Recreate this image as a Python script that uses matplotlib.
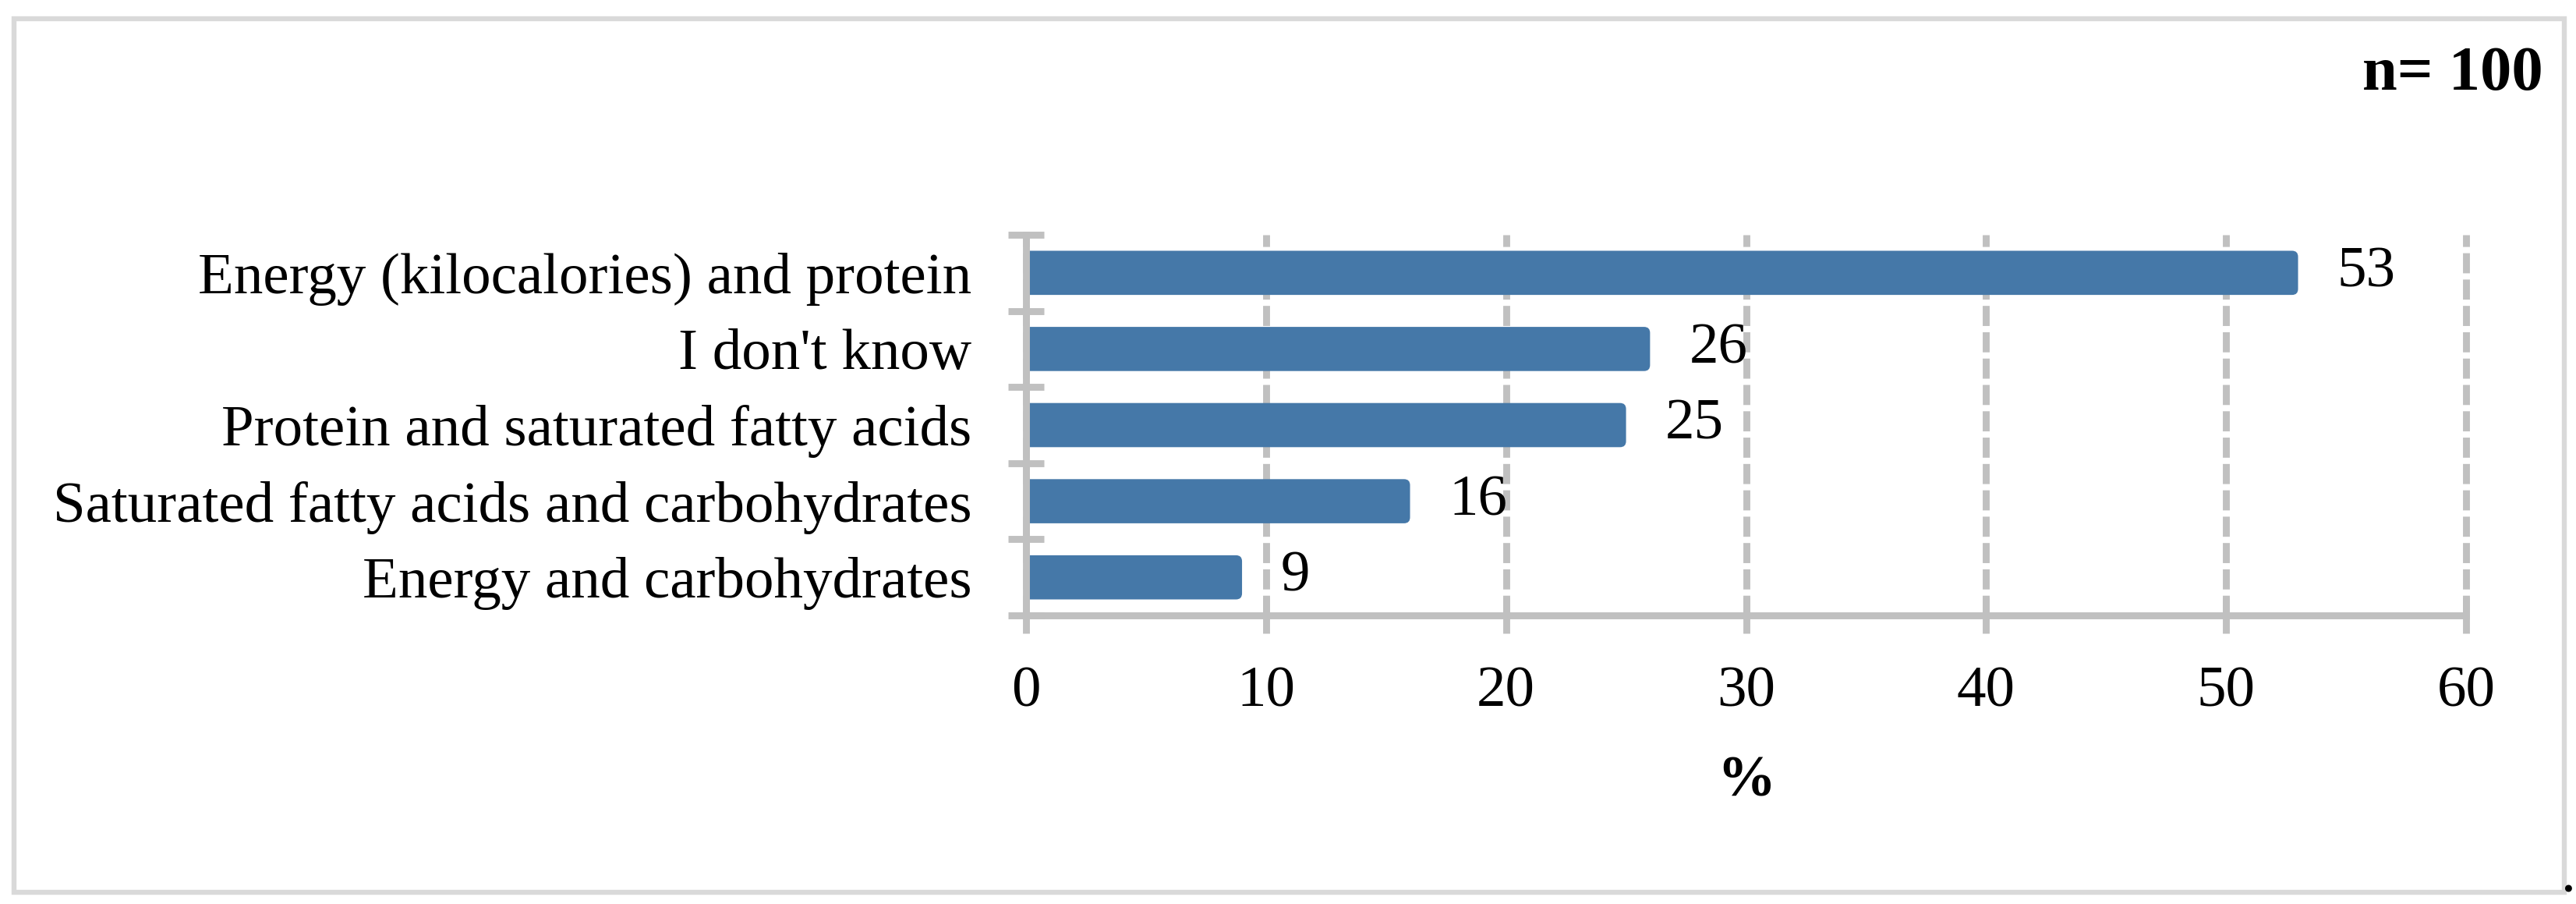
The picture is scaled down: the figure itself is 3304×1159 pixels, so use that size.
import matplotlib
matplotlib.use("Agg")
import matplotlib.pyplot as plt
import matplotlib.ticker as ticker
from matplotlib.patches import Rectangle, FancyBboxPatch

categories = ["Energy (kilocalories) and protein", "I don't know",
              "Protein and saturated fatty acids",
              "Saturated fatty acids and carbohydrates",
              "Energy and carbohydrates"]
values = [53, 26, 25, 16, 9]
x_ticks = [0, 10, 20, 30, 40, 50, 60]

plt.rcParams['font.family'] = ['Liberation Serif', 'DejaVu Serif']

W, H, DPI = 3304, 1159, 200
fig = plt.figure(figsize=(W / DPI, H / DPI), dpi=DPI)
ax = fig.add_axes([1316 / W, 1 - 789 / H, (3163 - 1316) / W, (789 - 301) / H])

line_col = '#C0C0C0'
bar_col = '#4578A8'
lw = 3.2   # points
fs = 27

ypos = list(range(len(categories)))
bars = ax.barh(ypos, values, height=0.58, color=bar_col, zorder=2)

ax.set_xlim(0, 60)
ax.set_ylim(len(categories) - 0.5, -0.5)

# swap plain rectangles for ones with slightly rounded ends
# (x unit ~30.8 px, y unit ~97.6 px)
for b in bars:
    x0, y0, w, h = b.get_x(), b.get_y(), b.get_width(), b.get_height()
    b.set_visible(False)
    ax.add_patch(FancyBboxPatch((x0 - 0.4, y0), w + 0.4, h,
                                boxstyle="round,pad=0,rounding_size=0.25",
                                mutation_aspect=30.8 / 97.6,
                                facecolor=bar_col, edgecolor='none', zorder=2))

ax.xaxis.set_major_locator(ticker.FixedLocator(x_ticks))
ax.set_yticks(ypos)
ax.set_yticklabels(categories, fontsize=fs)
ax.yaxis.set_minor_locator(ticker.FixedLocator([i - 0.5 for i in range(len(categories) + 1)]))

ax.tick_params(axis='y', which='major', length=0, pad=25)
ax.tick_params(axis='y', which='minor', direction='inout', length=16.5, width=lw, color=line_col)
ax.tick_params(axis='x', which='major', direction='inout', length=16.5, width=lw,
               color=line_col, labelsize=fs, pad=15)

for s in ['top', 'right']:
    ax.spines[s].set_visible(False)
for s in ['left', 'bottom']:
    ax.spines[s].set_color(line_col)
    ax.spines[s].set_linewidth(lw)
    ax.spines[s].set_zorder(3)

ax.set_axisbelow(True)
ax.grid(axis='x', color=line_col, linewidth=lw, linestyle=(0, (2.9, 0.9)))
for gl in ax.xaxis.get_gridlines():
    gl.set_clip_on(False)

for b, v in zip(bars, values):
    ax.annotate(str(v), (v, b.get_y() + b.get_height() / 2), xytext=(18, 0),
                textcoords='offset points', ha='left', va='center', fontsize=fs)

ax.set_xlabel('%', fontsize=fs, fontweight='bold', labelpad=17)

fig.text(3262 / W, 1 - 95 / H, 'n= 100', ha='right', va='center', fontsize=29,
         fontweight='bold')

# outer frame
fig.patches.append(Rectangle((18 / W, 1 - 1144 / H), (3289 - 18) / W, (1144 - 24) / H,
                             transform=fig.transFigure, fill=False, edgecolor='#D9D9D9',
                             linewidth=2.3))
fig.text(1.0, 1 - 1144 / H, '.', ha='right', va='baseline', fontsize=fs)

fig.savefig('out.png', dpi=DPI)
